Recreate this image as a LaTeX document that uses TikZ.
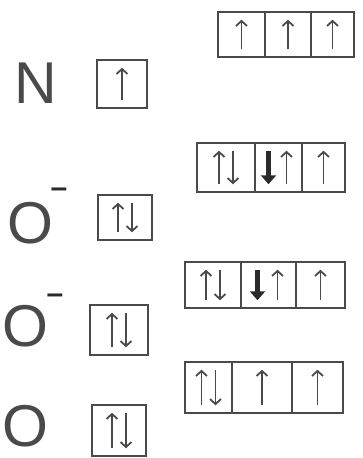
\documentclass[tikz,border=0pt]{standalone}
\usepackage{fontspec}
\setmainfont{Liberation Sans}
\usetikzlibrary{arrows.meta}
\definecolor{pencil}{HTML}{4A4A4A}
\definecolor{dark}{HTML}{2A2A2A}
\tikzset{
  cell/.style={draw=pencil, line width=2.5pt, inner sep=0pt},
  elem/.style={text=pencil, font=\fontsize{59}{59}\selectfont, inner sep=0pt, text depth=0pt, anchor=base},
  charge/.style={text=dark, font=\fontsize{30}{30}\selectfont\bfseries, inner sep=0pt},
  arr/.style={draw=pencil, line width=1.8pt, -{Straight Barb[length=5pt,width=11pt]}},
  boldarr/.style={draw=dark, line width=4.5pt, -{Triangle[length=9pt,width=15pt]}}
}
\newcommand\ArUp[2][0]{\draw[arr] ([xshift=#1pt,yshift=9pt]#2.south) -- ([xshift=#1pt,yshift=-9pt]#2.north);}
\newcommand\ArDn[2][0]{\draw[arr] ([xshift=#1pt,yshift=-9pt]#2.north) -- ([xshift=#1pt,yshift=9pt]#2.south);}
\newcommand\ArBold[2][0]{\draw[boldarr] ([xshift=#1pt,yshift=-9pt]#2.north) -- ([xshift=#1pt,yshift=9pt]#2.south);}
\newcommand\ArPair[1]{\ArUp[-7]{#1}\ArDn[7]{#1}}
\begin{document}
\begin{tikzpicture}[x=1pt,y=-1pt]
\useasboundingbox[fill=white] (0,0) rectangle (362,458);
% element labels
\node[elem] (N) at (36,103) {N};
\node[elem] (O1) at (30,243) {O};
\node[charge] (c1) at (59,193) {–};
\node[elem] (O2) at (25,346) {O};
\node[charge] (c2) at (55,299) {–};
\node[elem] (O3) at (25,446) {O};
% single boxes
\node[cell, minimum width=50pt, minimum height=48pt] (sN) at (122,84) {};
\node[cell, minimum width=54pt, minimum height=45pt] (s1) at (125,217.5) {};
\node[cell, minimum width=58pt, minimum height=50pt] (s2) at (119,330) {};
\node[cell, minimum width=54pt, minimum height=51pt] (s3) at (119,430.5) {};
% three-cell boxes
\node[cell, minimum width=47pt, minimum height=45pt] (A1) at (241.5,34.5) {};
\node[cell, minimum width=46pt, minimum height=45pt] (A2) at (288,34.5) {};
\node[cell, minimum width=43pt, minimum height=45pt] (A3) at (332.5,34.5) {};
\node[cell, minimum width=58pt, minimum height=49pt] (B1) at (226,167.5) {};
\node[cell, minimum width=47pt, minimum height=49pt] (B2) at (278.5,167.5) {};
\node[cell, minimum width=43pt, minimum height=49pt] (B3) at (323.5,167.5) {};
\node[cell, minimum width=56pt, minimum height=46pt] (C1) at (213,285) {};
\node[cell, minimum width=55pt, minimum height=46pt] (C2) at (268.5,285) {};
\node[cell, minimum width=49pt, minimum height=46pt] (C3) at (320.5,285) {};
\node[cell, minimum width=47pt, minimum height=51pt] (D1) at (208.5,387.5) {};
\node[cell, minimum width=60pt, minimum height=51pt] (D2) at (262,387.5) {};
\node[cell, minimum width=51pt, minimum height=51pt] (D3) at (317.5,387.5) {};
% arrows
\ArUp{A1}\ArUp{A2}\ArUp{A3}
\ArUp{sN}
\ArPair{B1}\ArBold[-10]{B2}\ArUp[8]{B2}\ArUp{B3}
\ArPair{s1}
\ArPair{C1}\ArBold[-11]{C2}\ArUp[9]{C2}\ArUp{C3}
\ArPair{s2}
\ArPair{D1}\ArUp{D2}\ArUp{D3}
\ArPair{s3}
\end{tikzpicture}
\end{document}
